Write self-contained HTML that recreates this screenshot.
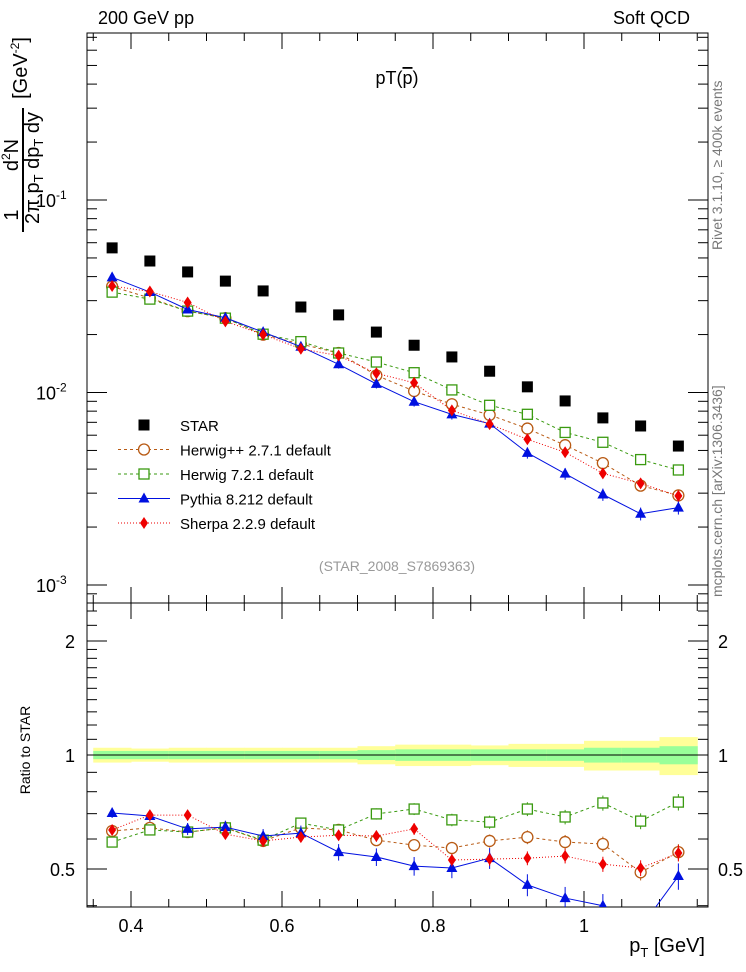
<!DOCTYPE html>
<html><head><meta charset="utf-8"><style>
html,body{margin:0;padding:0;background:#fff;}
svg{display:block;font-family:"Liberation Sans",sans-serif;}
</style></head><body>
<svg id="chart" width="746" height="972" viewBox="0 0 746 972">
<rect width="746" height="972" fill="#fff"/>
<text x="98" y="24" font-size="18">200 GeV pp</text>
<text x="690" y="24" font-size="18" text-anchor="end">Soft QCD</text>
<text x="397" y="84" font-size="18" text-anchor="middle">pT(<tspan text-decoration="overline">p</tspan>)</text>
<text x="397" y="571" font-size="14" fill="#999" text-anchor="middle">(STAR_2008_S7869363)</text>
<text transform="translate(722,250) rotate(-90)" font-size="14" fill="#777">Rivet 3.1.10, ≥ 400k events</text>
<text transform="translate(722,597) rotate(-90)" font-size="14" fill="#777">mcplots.cern.ch [arXiv:1306.3436]</text>
<g font-size="20">
<text transform="translate(18,215) rotate(-90)" text-anchor="middle">1</text>
<line x1="23" y1="108" x2="23" y2="232" stroke="#000" stroke-width="2"/>
<text transform="translate(39,168) rotate(-90)" text-anchor="middle">2π p<tspan font-size="13" dy="4">T</tspan><tspan dy="-4"> dp</tspan><tspan font-size="13" dy="4">T</tspan><tspan dy="-4"> dy</tspan></text>
<text transform="translate(18,155) rotate(-90)" text-anchor="middle">d<tspan font-size="12" dy="-8">2</tspan><tspan dy="8">N</tspan></text>
<text transform="translate(27,68) rotate(-90)" text-anchor="middle">[GeV<tspan font-size="12" dy="-8">-2</tspan><tspan dy="8">]</tspan></text>
</g>
<text transform="translate(30,750) rotate(-90)" font-size="14" text-anchor="middle">Ratio to STAR</text>
<text x="705" y="952" font-size="20" text-anchor="end">p<tspan font-size="13" dy="5">T</tspan><tspan dy="-5"> [GeV]</tspan></text>
<g id="g"></g>
</svg>
<script>
const xCenters=[0.375,0.425,0.475,0.525,0.575,0.625,0.675,0.725,0.775,0.825,0.875,0.925,0.975,1.025,1.075,1.125];
const starValues=[0.0564,0.0482,0.0423,0.0379,0.0337,0.0278,0.0253,0.0206,0.0176,0.0153,0.0129,0.0107,0.00904,0.00738,0.0067,0.00527];
const herwigppRatio=[0.630,0.642,0.626,0.642,0.593,0.642,0.634,0.596,0.578,0.568,0.593,0.607,0.589,0.582,0.490,0.554];
const herwig7Ratio=[0.589,0.634,0.626,0.642,0.596,0.661,0.634,0.699,0.720,0.674,0.665,0.720,0.686,0.747,0.669,0.751];
const pythiaRatio=[0.703,0.690,0.638,0.645,0.611,0.622,0.554,0.538,0.509,0.503,0.534,0.454,0.419,0.400,0.350,0.479];
const sherpaRatio=[0.634,0.694,0.694,0.618,0.593,0.607,0.614,0.611,0.638,0.528,0.531,0.534,0.541,0.515,0.503,0.551];
const bandGreen=[0.025,0.025,0.025,0.025,0.025,0.025,0.025,0.03,0.035,0.035,0.035,0.035,0.035,0.045,0.045,0.055];
const bandYellow=[0.045,0.04,0.045,0.045,0.045,0.045,0.045,0.055,0.065,0.065,0.06,0.07,0.07,0.09,0.09,0.115];
const xTicks=[0.4,0.6,0.8,1];
const xTickLabels=["0.4","0.6","0.8","1"];
const ratioTicks=[0.5,1,2];
const ratioTickLabels=["0.5","1","2"];

const L=87,R=708,T1=33,B1=603,T2=603,B2=907;
const X=v=>131+(v-0.4)*755;
const Y=v=>200-(Math.log10(v)+1)*192.5;
const RY=v=>755-Math.log2(v)*114;
const NS="http://www.w3.org/2000/svg";
const g=document.getElementById('g');
function el(t,a,p){const e=document.createElementNS(NS,t);for(const k in a)e.setAttribute(k,a[k]);(p||g).appendChild(e);return e;}

xCenters.forEach((x,i)=>{
 const x0=X(x-0.025),x1=X(x+0.025)+0.5;
 const yb=el('rect',{x:x0,y:RY(1+bandYellow[i]),width:x1-x0,height:RY(1-bandYellow[i])-RY(1+bandYellow[i]),fill:'#ffff99'});
 
 
 const gb=el('rect',{x:x0,y:RY(1+bandGreen[i]),width:x1-x0,height:RY(1-bandGreen[i])-RY(1+bandGreen[i]),fill:'#99ff99'});
 
 
});
el('line',{x1:L,x2:R,y1:RY(1),y2:RY(1),stroke:'#000','stroke-width':1});

el('rect',{x:L,y:T1,width:R-L,height:B1-T1,fill:'none',stroke:'#000','stroke-width':1});
el('rect',{x:L,y:T2,width:R-L,height:B2-T2,fill:'none',stroke:'#000','stroke-width':1});

for(let v=0.35;v<1.165;v+=0.05){const vv=Math.round(v*100)/100;const major=xTicks.some(t=>Math.abs(t-vv)<1e-6);const len=major?16:8;
 [[T1,1],[B1,-1],[T2,1],[B2,-1]].forEach(([y,d])=>el('line',{x1:X(vv),x2:X(vv),y1:y,y2:y+d*len,stroke:'#000'}));}
xTicks.forEach((t,i)=>{const e=el('text',{x:X(t),y:932,'font-size':18,'text-anchor':'middle'});e.textContent=xTickLabels[i];
 
 });

for(let d=-4;d<=-1;d++){for(let m=1;m<10;m++){const v=m*Math.pow(10,d);const y=Y(v);if(y<T1||y>B1)continue;const len=m==1?20:10;
 el('line',{x1:L,x2:L+len,y1:y,y2:y,stroke:'#000'});el('line',{x1:R,x2:R-len,y1:y,y2:y,stroke:'#000'});}}
[[-1],[-2],[-3]].forEach(([d])=>{const e=el('text',{x:36,y:Y(Math.pow(10,d))+7,'font-size':18});e.innerHTML='10<tspan font-size="12" dy="-8">'+d+'</tspan>';
 
 });
[0.4,0.5,0.6,0.7,0.8,0.9,1,1.1,1.2,1.3,1.4,1.5,1.6,1.7,1.8,1.9,2,2.2,2.4].forEach(v=>{const y=RY(v);if(y<T2||y>B2)return;const len=ratioTicks.includes(v)?20:10;
 el('line',{x1:L,x2:L+len,y1:y,y2:y,stroke:'#000'});el('line',{x1:R,x2:R-len,y1:y,y2:y,stroke:'#000'});});
ratioTicks.forEach((t,i)=>{[[75,'end'],[718,'start']].forEach(([x,a])=>{const e=el('text',{x:x,y:RY(t)+7,'font-size':18,'text-anchor':a});e.textContent=ratioTickLabels[i];
 
 });});

const series=[
 {r:herwigppRatio,c:'#b85a14',m:'circle',dash:'3,3',name:'herwigpp'},
 {r:herwig7Ratio,c:'#3a9a10',m:'square',dash:'3,3',name:'herwig7'},
 {r:pythiaRatio,c:'#0010e0',m:'tri',dash:'',name:'pythia'},
 {r:sherpaRatio,c:'#ee0000',m:'diamond',dash:'1,2',name:'sherpa'}];
function marker(m,x,y,c,p){
 if(m=='circle')return el('circle',{cx:x,cy:y,r:5.5,fill:'#fff',stroke:c,'stroke-width':1.3},p);
 if(m=='square')return el('rect',{x:x-5,y:y-5,width:10,height:10,fill:'#fff',stroke:c,'stroke-width':1.3},p);
 if(m=='tri')return el('path',{d:`M${x} ${y-6}L${x+5.5} ${y+4}L${x-5.5} ${y+4}Z`,fill:c},p);
 if(m=='diamond')return el('path',{d:`M${x} ${y-6}L${x+4} ${y}L${x} ${y+6}L${x-4} ${y}Z`,fill:c},p);
 if(m=='sq')return el('rect',{x:x-5.5,y:y-5.5,width:11,height:11,fill:'#000'},p);
}
const clip1=el('clipPath',{id:'c1'});el('rect',{x:L,y:T1,width:R-L,height:B1-T1},clip1);
const clip2=el('clipPath',{id:'c2'});el('rect',{x:L,y:T2,width:R-L,height:B2-T2},clip2);
const g1=el('g',{'clip-path':'url(#c1)'}),g2=el('g',{'clip-path':'url(#c2)'});
series.forEach(s=>{
 const main=xCenters.map((x,i)=>[X(x),Y(starValues[i]*s.r[i])]);
 const rat=xCenters.map((x,i)=>[X(x),RY(s.r[i])]);
 const l1=el('polyline',{points:main.map(p=>p.join(',')).join(' '),fill:'none',stroke:s.c,'stroke-width':1,'stroke-dasharray':s.dash},g1);
 
 
 const l2=el('polyline',{points:rat.map(p=>p.join(',')).join(' '),fill:'none',stroke:s.c,'stroke-width':1,'stroke-dasharray':s.dash},g2);
 
 
 xCenters.forEach((x,i)=>{
  const err=s.name=='pythia'?0.03+0.05*i/15:0.02+0.03*i/15;
  const v=starValues[i]*s.r[i];
  el('line',{x1:X(x),x2:X(x),y1:Y(v*(1+err)),y2:Y(v*(1-err)),stroke:s.c},g1);
  el('line',{x1:X(x),x2:X(x),y1:RY(s.r[i]*(1+err)),y2:RY(s.r[i]*(1-err)),stroke:s.c},g2);
  const a=marker(s.m,X(x),Y(v),s.c,g1);
  
  
  const b=marker(s.m,X(x),RY(s.r[i]),s.c,g2);
  
  
 });
});
xCenters.forEach((x,i)=>{const p=marker('sq',X(x),Y(starValues[i]),'#000',g1);
 
 });

const leg=[['sq','#000','','STAR'],['circle','#b85a14','3,3','Herwig++ 2.7.1 default'],['square','#3a9a10','3,3','Herwig 7.2.1 default'],['tri','#0010e0','','Pythia 8.212 default'],['diamond','#ee0000','1,2','Sherpa 2.2.9 default']];
leg.forEach((e,i)=>{const y=425+i*24.5;
 const lg=el('g',{});
 
 
 if(i>0)el('line',{x1:118,x2:170,y1:y,y2:y,stroke:e[1],'stroke-dasharray':e[2]},lg);
 marker(e[0],144,y,e[1],lg);
 const t=el('text',{x:180,y:y+6,'font-size':15},lg);t.textContent=e[3];});
</script>
</body></html>
